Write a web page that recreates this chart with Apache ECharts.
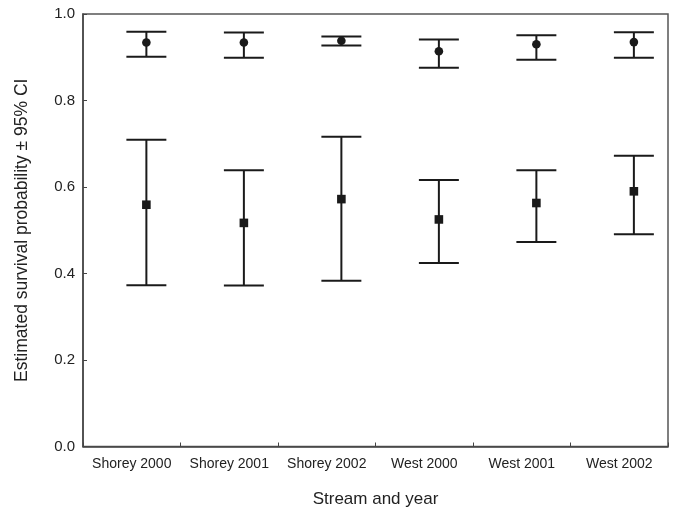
<!DOCTYPE html>
<html>
<head>
<meta charset="utf-8">
<script src="https://cdn.jsdelivr.net/npm/echarts@6/dist/echarts.min.js"></script>
<style>
  html, body { margin: 0; padding: 0; background: #fff; }
  #chart { width: 674px; height: 508px; }
</style>
</head>
<body>
<div id="chart"></div>
<script>
// Stream / year groups along the x axis
const categories = ['Shorey 2000', 'Shorey 2001', 'Shorey 2002', 'West 2000', 'West 2001', 'West 2002'];

// Upper group (circles): estimate with 95% CI bounds
const circleEst  = [0.934, 0.934, 0.938, 0.914, 0.930, 0.935];
const circleLow  = [0.901, 0.899, 0.927, 0.876, 0.894, 0.899];
const circleHigh = [0.959, 0.957, 0.948, 0.941, 0.951, 0.958];

// Lower group (squares): estimate with 95% CI bounds
const squareEst  = [0.559, 0.517, 0.572, 0.525, 0.563, 0.590];
const squareLow  = [0.373, 0.372, 0.383, 0.424, 0.473, 0.491];
const squareHigh = [0.709, 0.639, 0.716, 0.616, 0.639, 0.672];

const yTicks = [0.0, 0.2, 0.4, 0.6, 0.8, 1.0];

const INK = '#1a1a1a';
const FONT = '"Liberation Sans", Arial, sans-serif';

function toRows(est, low, high) {
  return categories.map((c, i) => [i, low[i], est[i], high[i]]);
}

// Error bar with caps, marker drawn on top, shifted right within its band
function makeRenderer(shape) {
  return function (params, api) {
    const i = api.value(0);
    const lo = api.coord([i, api.value(1)]);
    const mid = api.coord([i, api.value(2)]);
    const hi = api.coord([i, api.value(3)]);
    const band = api.size([1, 0])[0];
    const x = mid[0] + band * 0.15;
    const capHalf = band * 0.205;
    const lineStyle = { stroke: INK, lineWidth: 2 };
    const children = [
      { type: 'line', shape: { x1: x, y1: lo[1], x2: x, y2: hi[1] }, style: lineStyle },
      { type: 'line', shape: { x1: x - capHalf, y1: lo[1], x2: x + capHalf, y2: lo[1] }, style: lineStyle },
      { type: 'line', shape: { x1: x - capHalf, y1: hi[1], x2: x + capHalf, y2: hi[1] }, style: lineStyle }
    ];
    if (shape === 'circle') {
      children.push({ type: 'circle', shape: { cx: x, cy: mid[1], r: 4.3 }, style: { fill: INK } });
    } else {
      children.push({ type: 'rect', shape: { x: x - 4.3, y: mid[1] - 4.3, width: 8.6, height: 8.6 }, style: { fill: INK } });
    }
    return { type: 'group', children };
  };
}

const chart = echarts.init(document.getElementById('chart'), null, { renderer: 'canvas' });

chart.setOption({
  animation: false,
  backgroundColor: '#fff',
  textStyle: { fontFamily: FONT },
  grid: {
    left: 83, right: 6, top: 14, bottom: 61.5,
    outerBoundsMode: 'none',
    containLabel: false,
    show: true, borderColor: '#555', borderWidth: 1.5, backgroundColor: 'transparent'
  },
  xAxis: {
    type: 'category',
    data: categories,
    boundaryGap: true,
    name: 'Stream and year',
    nameLocation: 'middle',
    nameGap: 44,
    nameTextStyle: { fontSize: 17, color: '#222', fontFamily: FONT },
    axisLine: { lineStyle: { color: '#444', width: 1.5 } },
    axisTick: { show: true, inside: true, length: 4, interval: 0, lineStyle: { color: '#444' } },
    axisLabel: { fontSize: 14, color: '#222', margin: 11, interval: 0 },
    splitLine: { show: false }
  },
  yAxis: {
    type: 'value',
    min: 0, max: 1, interval: 0.2,
    name: 'Estimated survival probability \u00b1 95% CI',
    nameLocation: 'middle',
    nameGap: 52,
    nameTextStyle: { fontSize: 17.5, color: '#222', fontFamily: FONT },
    axisLine: { show: true, lineStyle: { color: '#444', width: 1.5 } },
    axisTick: { show: true, inside: true, length: 4, lineStyle: { color: '#444' } },
    axisLabel: {
      fontSize: 15, color: '#222', margin: 8,
      formatter: v => {
        const t = yTicks.find(k => Math.abs(k - v) < 1e-9);
        return (t === undefined ? v : t).toFixed(1);
      }
    },
    splitLine: { show: false }
  },
  series: [
    {
      type: 'custom',
      name: 'circles',
      renderItem: makeRenderer('circle'),
      encode: { x: 0, y: [1, 2, 3] },
      data: toRows(circleEst, circleLow, circleHigh),
      z: 3
    },
    {
      type: 'custom',
      name: 'squares',
      renderItem: makeRenderer('square'),
      encode: { x: 0, y: [1, 2, 3] },
      data: toRows(squareEst, squareLow, squareHigh),
      z: 3
    }
  ]
});
</script>
</body>
</html>
